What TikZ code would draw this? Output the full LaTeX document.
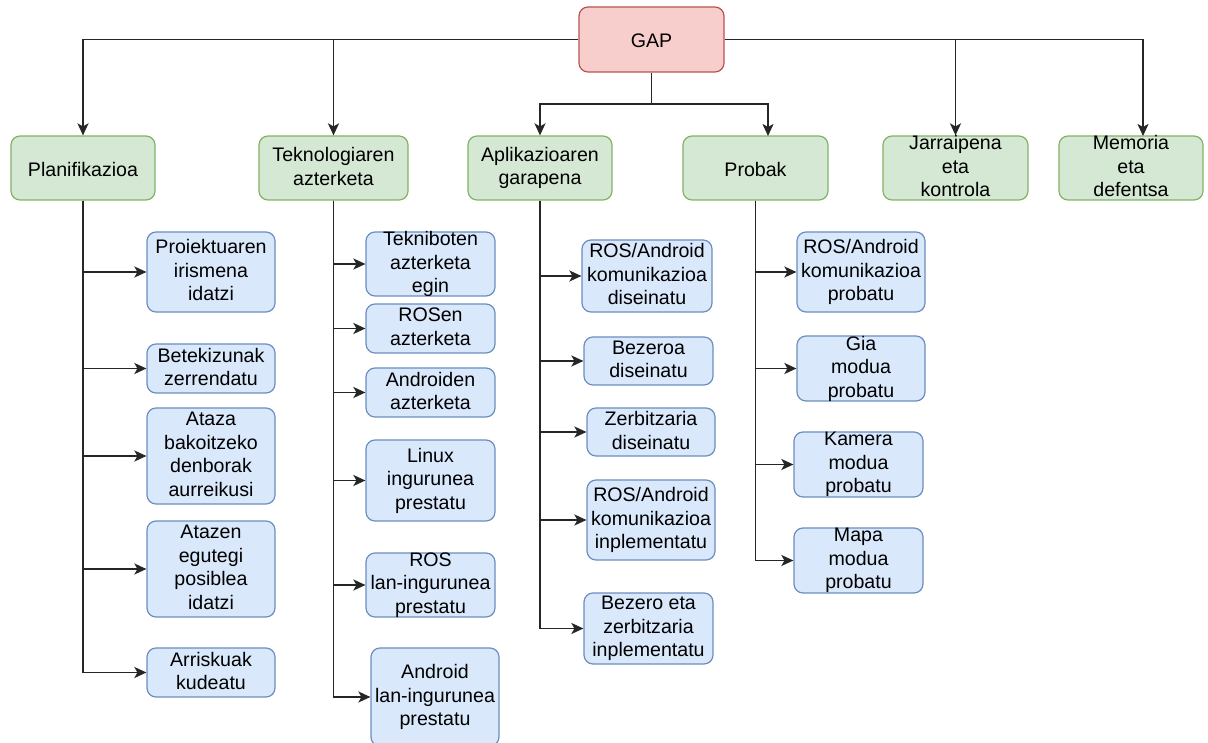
\documentclass[tikz,border=0pt]{standalone}
\usepackage{fontspec}
\setmainfont{Liberation Sans}
\usetikzlibrary{arrows.meta}

\definecolor{gfill}{HTML}{D5E8D4}
\definecolor{gline}{HTML}{82B366}
\definecolor{bfill}{HTML}{DAE8FC}
\definecolor{bline}{HTML}{6C8EBF}
\definecolor{rfill}{HTML}{F8CECC}
\definecolor{rline}{HTML}{B85450}

% strut giving every text line the same box height
\newcommand\linestrut{\rule[-3.5pt]{0pt}{23.5pt}}
% \blk{style}{name}{centre}{width}{height}{text}
\newcommand\blk[6]{\node[#1, minimum width=#4pt, minimum height=#5pt,
  label={[txt]center:{#6}}] (#2) at #3 {};}

\tikzset{
  tip/.tip={Stealth[length=12pt,width=11pt,inset=3pt]},
}

\begin{document}
\begin{tikzpicture}[x=1pt,y=-1pt,
  box/.style={draw, rounded corners=9pt, line width=1.2pt, inner sep=0pt},
  phase/.style={box, fill=gfill, draw=gline},
  task/.style={box, fill=bfill, draw=bline},
  root/.style={box, fill=rfill, draw=rline},
  txt/.style={align=center, inner sep=0pt, text=black,
    font=\fontsize{19.6}{23.5}\selectfont,
    execute at begin node=\linestrut, execute at end node=\linestrut},
  wire/.style={line width=1.8pt, black!85},
  link/.style={wire, -tip}]

\useasboundingbox (0,0) rectangle (1208,743);

% root and phases
\blk{root}{gap}{(651.5,39.5)}{145}{65}{GAP}
\blk{phase}{plan}{(83,168)}{144}{64}{Planifikazioa}
\blk{phase}{tek}{(333.5,168)}{149}{64}{Teknologiaren\\azterketa}
\blk{phase}{apl}{(540,168)}{144}{64}{Aplikazioaren\\garapena}
\blk{phase}{prob}{(755.5,168)}{145}{64}{Probak}
\blk{phase}{jar}{(955.5,168)}{145}{64}{Jarraipena\\eta\\kontrola}
\blk{phase}{mem}{(1131,168)}{144}{64}{Memoria\\eta\\defentsa}

% planning tasks
\blk{task}{p1}{(211,272)}{128}{80}{Proiektuaren\\irismena\\idatzi}
\blk{task}{p2}{(211,368.5)}{128}{49}{Betekizunak\\zerrendatu}
\blk{task}{p3}{(211,456)}{128}{96}{Ataza\\bakoitzeko\\denborak\\aurreikusi}
\blk{task}{p4}{(211,569)}{128}{96}{Atazen\\egutegi\\posiblea\\idatzi}
\blk{task}{p5}{(211,672.5)}{128}{49}{Arriskuak\\kudeatu}

% technology study tasks
\blk{task}{t1}{(430.5,264)}{129}{64}{Tekniboten\\azterketa\\egin}
\blk{task}{t2}{(430.5,328.5)}{129}{49}{ROSen\\azterketa}
\blk{task}{t3}{(430.5,392.5)}{129}{49}{Androiden\\azterketa}
\blk{task}{t4}{(430.5,480.5)}{129}{81}{Linux\\ingurunea\\prestatu}
\blk{task}{t5}{(430.5,585)}{129}{64}{ROS\\lan-ingurunea\\prestatu}
\blk{task}{t6}{(435,697)}{128}{98}{Android\\lan-ingurunea\\prestatu}

% development tasks
\blk{task}{a1}{(647,276)}{130}{72}{ROS/Android\\komunikazioa\\diseinatu}
\blk{task}{a2}{(648.5,361)}{129}{48}{Bezeroa\\diseinatu}
\blk{task}{a3}{(651,432)}{128}{48}{Zerbitzaria\\diseinatu}
\blk{task}{a4}{(651,520)}{128}{80}{ROS/Android\\komunikazioa\\inplementatu}
\blk{task}{a5}{(648.5,628.5)}{129}{71}{Bezero eta\\zerbitzaria\\inplementatu}

% testing tasks
\blk{task}{b1}{(861,272)}{128}{80}{ROS/Android\\komunikazioa\\probatu}
\blk{task}{b2}{(861,368.5)}{128}{65}{Gia\\modua\\probatu}
\blk{task}{b3}{(858.5,464.5)}{129}{65}{Kamera\\modua\\probatu}
\blk{task}{b4}{(858.5,560.5)}{129}{65}{Mapa\\modua\\probatu}

% entry points and branch point
\coordinate (split) at (651.5,104);
\coordinate (probin) at (768,136);
\coordinate (memin) at (1143,136);

% root to phases
\draw[link] (gap.west) -| (plan.north);
\draw[link] (gap.west) -| (tek.north);
\draw[link] (gap.east) -| (jar.north);
\draw[link] (gap.east) -| (memin);
\draw[wire] (gap.south) -- (split);
\draw[link] (split) -| (apl.north);
\draw[link] (split) -| (probin);

% phases to tasks
\foreach \t in {p1,p2,p3,p4,p5} \draw[link] (plan.south) |- (\t.west);
\foreach \t in {t1,t2,t3,t4,t5,t6} \draw[link] (tek.south) |- (\t.west);
\foreach \t in {a1,a2,a3,a4,a5} \draw[link] (apl.south) |- (\t.west);
\foreach \t in {b1,b2,b3,b4} \draw[link] (prob.south) |- (\t.west);
\end{tikzpicture}
\end{document}
